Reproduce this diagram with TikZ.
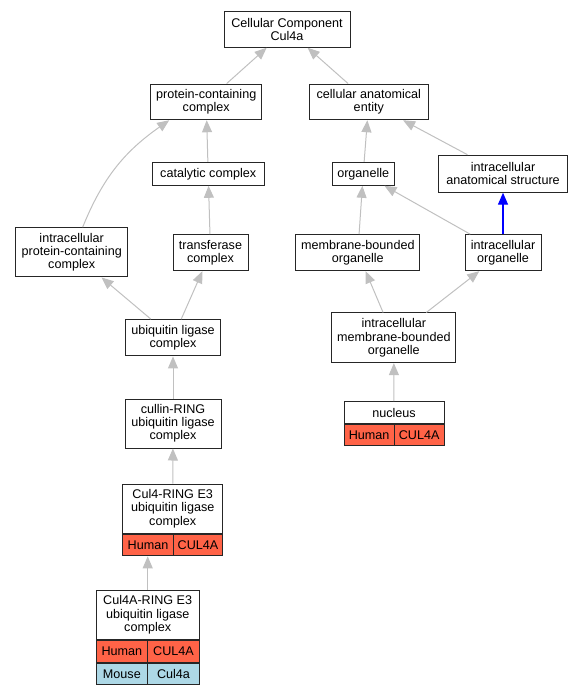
\documentclass[tikz,border=0pt]{standalone}
\usepackage{fontspec}
\setmainfont{Liberation Sans}
\usetikzlibrary{arrows.meta}
\definecolor{isagray}{HTML}{C0C0C0}
\definecolor{human}{HTML}{FF6347}
\definecolor{mouse}{HTML}{ADD8E6}
\newcommand{\termsize}{\fontsize{12.6pt}{13.2pt}\selectfont}

\begin{document}
\begin{tikzpicture}[x=1pt, y=-1pt,
    term/.style={draw=black!85, line width=1pt, fill=white, align=center, inner sep=0pt, font=\termsize},
    cell/.style={term, minimum height=21.5pt},
    isa/.style={draw=isagray, line width=1pt, -{Triangle[length=12pt,width=10pt]}}]
  \useasboundingbox (0,0) rectangle (584,693);
  % terms
  \node[term, minimum width=126pt, minimum height=35.5pt] (cc) at (287,29.5) {Cellular Component\\Cul4a};
  \node[term, minimum width=111pt, minimum height=35.7pt] (pcc) at (206.2,101.9) {protein-containing\\complex};
  \node[term, minimum width=119pt, minimum height=35.7pt] (cae) at (368.8,101.9) {cellular anatomical\\entity};
  \node[term, minimum width=111.7pt, minimum height=23pt] (cat) at (208.2,173.8) {catalytic complex};
  \node[term, minimum width=61.7pt, minimum height=23pt] (org) at (363.2,173.8) {organelle};
  \node[term, minimum width=129.3pt, minimum height=37pt] (ias) at (503,173.7) {intracellular\\anatomical structure};
  \node[term, minimum width=112pt, minimum height=49.3pt] (ipcc) at (71.7,252.3) {intracellular\\protein-containing\\complex};
  \node[term, minimum width=75pt, minimum height=36pt] (trf) at (210.5,252.7) {transferase\\complex};
  \node[term, minimum width=124.3pt, minimum height=36pt] (mbo) at (357.8,252.7) {membrane-bounded\\organelle};
  \node[term, minimum width=76pt, minimum height=36pt] (io) at (503,252.7) {intracellular\\organelle};
  \node[term, minimum width=95.4pt, minimum height=36.3pt] (ulc) at (173,337.8) {ubiquitin ligase\\complex};
  \node[term, minimum width=124.3pt, minimum height=49.7pt] (imbo) at (393.8,337.8) {intracellular\\membrane-bounded\\organelle};
  \node[term, minimum width=96pt, minimum height=49pt] (crl) at (173,423.5) {cullin-RING\\ubiquitin ligase\\complex};
  % annotated terms
  \node[term, minimum width=100pt, minimum height=21.6pt] (nuc) at (394,412.5) {nucleus};
  \node[cell, fill=human, minimum width=50.3pt, anchor=north west] (nucH) at (nuc.south west) {Human};
  \node[cell, fill=human, minimum width=49.7pt, anchor=north east] (nucG) at (nuc.south east) {CUL4A};
  \node[term, minimum width=100pt, minimum height=49.3pt] (c4r) at (172.7,508.7) {Cul4-RING E3\\ubiquitin ligase\\complex};
  \node[cell, fill=human, minimum width=50.6pt, anchor=north west] (c4rH) at (c4r.south west) {Human};
  \node[cell, fill=human, minimum width=49.4pt, anchor=north east] (c4rG) at (c4r.south east) {CUL4A};
  \node[term, minimum width=103.3pt, minimum height=49.5pt] (c4a) at (147.7,614.8) {Cul4A-RING E3\\ubiquitin ligase\\complex};
  \node[cell, fill=human, minimum width=51.7pt, anchor=north west] (c4aH) at (c4a.south west) {Human};
  \node[cell, fill=human, minimum width=51.6pt, anchor=north east] (c4aG) at (c4a.south east) {CUL4A};
  \node[cell, fill=mouse, minimum width=51.7pt, anchor=north west] (c4aM) at (c4aH.south west) {Mouse};
  \node[cell, fill=mouse, minimum width=51.6pt, anchor=north east] (c4aT) at (c4aG.south east) {Cul4a};
  % is_a edges
  \draw[isa] (pcc) -- (cc);
  \draw[isa] (cae) -- (cc);
  \draw[isa] (cat) -- (pcc);
  \draw[isa] ([xshift=11pt]ipcc.north) to[out=68,in=-145] ([xshift=-37pt]pcc.south);
  \draw[isa] (org) -- (cae);
  \draw[isa] (ias) -- (cae);
  \draw[isa] (trf) -- (cat);
  \draw[isa] (mbo) -- (org);
  \draw[isa] (io) -- (org);
  \draw[isa, draw=blue, line width=1.4pt] (io) -- (ias);
  \draw[isa] (ulc) -- (ipcc);
  \draw[isa] (ulc) -- (trf);
  \draw[isa] (imbo) -- (mbo);
  \draw[isa] (imbo) -- (io);
  \draw[isa] (crl) -- (ulc);
  \draw[isa] (nuc) -- (imbo);
  \draw[isa] (c4r) -- (crl);
  \draw[isa] (c4a.north) -- (c4a.north |- c4rH.south);
\end{tikzpicture}
\end{document}
